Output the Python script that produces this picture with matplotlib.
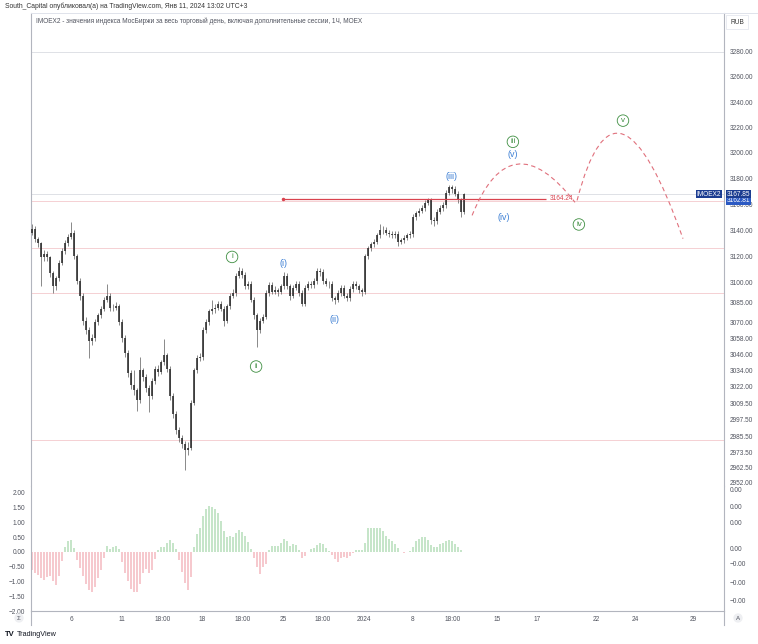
# IMOEX2 1H chart with wave count, TradingView-like layout
import matplotlib
matplotlib.use("Agg")
import numpy as np
import matplotlib.pyplot as plt
from matplotlib.path import Path
from matplotlib.patches import PathPatch
from matplotlib.lines import Line2D
from matplotlib.ticker import FixedLocator, FixedFormatter, NullLocator

plt.rcParams['font.family'] = ['Liberation Sans', 'DejaVu Sans']

# price bars (one bar per ~3 hours), open = previous close
first_open = 3138
closes = [3141, 3133, 3130, 3119, 3122, 3119, 3107, 3097, 3103, 3115,
          3124, 3130, 3135, 3138, 3120, 3101, 3090, 3071, 3064, 3056,
          3058, 3070, 3075, 3080, 3087, 3090, 3081, 3081, 3082, 3070,
          3058, 3047, 3032, 3023, 3019, 3012, 3034, 3029, 3021, 3015,
          3026, 3035, 3033, 3040, 3045, 3035, 3015, 3002, 2990, 2984,
          2980, 2975, 2977, 3010, 3034, 3043, 3044, 3064, 3070, 3078,
          3080, 3081, 3084, 3080, 3071, 3082, 3090, 3092, 3105, 3109,
          3106, 3097, 3099, 3087, 3075, 3064, 3071, 3074, 3092, 3098,
          3093, 3094, 3093, 3097, 3105, 3097, 3090, 3096, 3099, 3092,
          3084, 3096, 3099, 3098, 3101, 3109, 3108, 3101, 3099, 3099,
          3088, 3087, 3092, 3096, 3090, 3088, 3095, 3099, 3097, 3094,
          3093, 3120, 3126, 3129, 3131, 3136, 3140, 3140, 3138, 3137,
          3136, 3137, 3131, 3132, 3134, 3136, 3137, 3150, 3153, 3155,
          3157, 3161, 3163, 3148, 3147, 3154, 3157, 3159, 3169, 3173,
          3172, 3168, 3163, 3154, 3167.85]
highs = [3145, 3143, 3135, 3131, 3125, 3124, 3120, 3109, 3105, 3117,
         3126, 3132, 3137, 3146, 3140, 3122, 3103, 3092, 3074, 3066,
         3061, 3072, 3077, 3082, 3089, 3099, 3092, 3084, 3085, 3084,
         3072, 3060, 3049, 3034, 3034, 3021, 3044, 3036, 3031, 3023,
         3028, 3037, 3038, 3042, 3057, 3047, 3037, 3017, 3004, 2992,
         2986, 2982, 2981, 3012, 3036, 3045, 3047, 3066, 3072, 3080,
         3087, 3084, 3086, 3086, 3082, 3084, 3092, 3095, 3107, 3112,
         3111, 3108, 3101, 3101, 3089, 3077, 3073, 3076, 3094, 3100,
         3100, 3097, 3096, 3099, 3108, 3107, 3099, 3098, 3101, 3101,
         3094, 3098, 3101, 3101, 3103, 3111, 3111, 3110, 3103, 3101,
         3101, 3090, 3094, 3098, 3098, 3092, 3097, 3101, 3101, 3099,
         3096, 3122, 3128, 3131, 3133, 3138, 3145, 3143, 3142, 3140,
         3139, 3139, 3139, 3134, 3136, 3138, 3139, 3152, 3155, 3157,
         3159, 3163, 3165, 3165, 3150, 3156, 3159, 3162, 3171, 3175,
         3175, 3174, 3170, 3165, 3169]
lows = [3136, 3131, 3127, 3097, 3116, 3116, 3104, 3092, 3094, 3101,
        3113, 3122, 3128, 3133, 3118, 3099, 3087, 3068, 3061, 3043,
        3053, 3056, 3068, 3073, 3078, 3085, 3078, 3078, 3079, 3068,
        3055, 3044, 3029, 3020, 3016, 3004, 3010, 3026, 3018, 3003,
        3013, 3024, 3030, 3031, 3038, 3033, 3012, 2999, 2987, 2981,
        2977, 2961, 2972, 2975, 3008, 3032, 3041, 3042, 3062, 3068,
        3076, 3077, 3079, 3078, 3067, 3069, 3080, 3088, 3090, 3103,
        3103, 3095, 3095, 3085, 3072, 3051, 3062, 3069, 3072, 3090,
        3091, 3091, 3090, 3091, 3095, 3095, 3087, 3088, 3094, 3090,
        3082, 3082, 3094, 3096, 3096, 3099, 3105, 3099, 3097, 3096,
        3086, 3084, 3085, 3090, 3088, 3086, 3086, 3093, 3095, 3092,
        3090, 3091, 3118, 3124, 3127, 3129, 3134, 3137, 3136, 3135,
        3134, 3134, 3128, 3129, 3130, 3132, 3134, 3135, 3148, 3151,
        3153, 3155, 3159, 3145, 3143, 3145, 3152, 3155, 3157, 3167,
        3169, 3166, 3161, 3150, 3152]

# oscillator histogram (lower pane)
osc = [-0.60, -0.70, -0.78, -0.88, -0.94, -0.85, -0.82, -0.98, -1.12, -0.80,
       -0.30, 0.15, 0.38, 0.40, 0.12, -0.28, -0.55, -0.80, -1.08, -1.30,
       -1.35, -1.20, -0.90, -0.60, -0.22, 0.20, 0.10, 0.15, 0.20, 0.08,
       -0.35, -0.70, -1.00, -1.25, -1.35, -1.35, -1.10, -0.70, -0.58, -0.70,
       -0.60, -0.25, 0.05, 0.18, 0.18, 0.30, 0.40, 0.30, 0.08, -0.28,
       -0.68, -1.05, -1.30, -0.85, 0.15, 0.60, 0.80, 1.20, 1.45, 1.55,
       1.52, 1.45, 1.30, 1.05, 0.70, 0.50, 0.55, 0.50, 0.65, 0.75,
       0.68, 0.52, 0.32, 0.10, -0.20, -0.50, -0.75, -0.50, -0.42, 0.05,
       0.20, 0.20, 0.20, 0.30, 0.45, 0.35, 0.20, 0.25, 0.22, 0.05,
       -0.20, -0.15, -0.02, 0.08, 0.13, 0.22, 0.30, 0.25, 0.12, 0.03,
       -0.10, -0.25, -0.33, -0.22, -0.16, -0.20, -0.15, -0.05, 0.05, 0.05,
       0.05, 0.30, 0.80, 0.80, 0.80, 0.80, 0.80, 0.70, 0.55, 0.43,
       0.37, 0.28, 0.12, -0.02, -0.05, -0.02, 0.03, 0.15, 0.38, 0.45,
       0.50, 0.50, 0.40, 0.22, 0.15, 0.18, 0.25, 0.30, 0.37, 0.40,
       0.36, 0.28, 0.15, 0.06, 0.01]

# axis ticks
price_ticks = [3280, 3260, 3240, 3220, 3200, 3180, 3160, 3140, 3120, 3100,
               3085, 3070, 3058, 3046, 3034, 3022, 3009.5, 2997.5, 2985.5,
               2973.5, 2962.5, 2952]
osc_ticks = [2.0, 1.5, 1.0, 0.5, 0.0, -0.5, -1.0, -1.5, -2.0]
osc_right_ticks = [2.12, 1.52, 0.98, 0.10, -0.41, -1.04, -1.65]
osc_right_labels = ["0.00", "0.00", "0.00", "0.00", "\u22120.00", "\u22120.00", "\u22120.00"]
time_ticks = [13.3, 30, 43.7, 56.7, 70.3, 83.7, 97, 110.7, 126.7, 140.3,
              155, 168.3, 188, 201, 220.3]
time_labels = ["6", "11", "18:00", "18", "18:00", "25", "18:00", "2024", "8",
               "18:00", "15", "17", "22", "24", "29"]

# horizontal levels
gray_levels = [3280.0, 3167.85]
pink_levels = [3162.81, 3126.5, 3092.0, 2982.6]
red_level = 3164.24
red_from, red_to = 83.7, 171.3

# wave labels: text, bar, price
green_waves = [("i", 66.7, 3119.4), ("ii", 74.7, 3036.8), ("iii", 160.3, 3208.6),
               ("iv", 182.3, 3144.3), ("v", 197.0, 3225.3)]
blue_waves = [("(i)", 84.0, 3114.7), ("(ii)", 100.7, 3071.8), ("(iii)", 139.7, 3181.6),
              ("(v)", 160.3, 3199.0), ("(iv)", 157.3, 3149.7)]

# projected arcs: start, control, end (bar, price)
arc1 = [(146.7, 3151.3), (159.5, 3226.3), (181.0, 3161.4)]
arc2 = [(181.7, 3162.9), (194.7, 3282.4), (217.0, 3133.4)]

W, H = 758, 644
def fx(px):
    return px / W
def fy(py):
    return 1 - py / H

AX_COL = '#b2b5be'
TXT_COL = '#50535e'
FS = 4.7

fig = plt.figure(figsize=(W / 100, H / 100), dpi=100)
fig.patch.set_facecolor('white')

ax = fig.add_axes([fx(31), fy(486), fx(724) - fx(31), fy(12.7) - fy(486)])
ax2 = fig.add_axes([fx(31), fy(611), fx(724) - fx(31), fy(486) - fy(611)], sharex=ax)

x = np.arange(len(closes))
opens = np.array([first_open] + closes[:-1])
cl = np.array(closes)

# --- main pane
ax.set_yscale('log')
for lv in gray_levels:
    ax.axhline(lv, color='#dfe1e6', lw=0.7, zorder=1)
for lv in pink_levels:
    ax.axhline(lv, color='#f5d0d3', lw=0.7, zorder=1)

ax.vlines(x, lows, highs, color='#6a6a6a', lw=0.55, zorder=3)
ax.vlines(x, np.minimum(opens, cl), np.maximum(opens, cl), color='#2b2b2b',
          lw=1.15, zorder=4)

ax.hlines(red_level, red_from, red_to, color='#d9434f', lw=0.9, zorder=5)
ax.plot([red_from], [red_level], 'o', color='#d9434f', ms=1.5, zorder=5)
ax.text(red_to + 1.2, red_level, f"{red_level:.2f}", color='#d9434f',
        fontsize=FS, va='center', ha='left', zorder=6)

for arc in (arc1, arc2):
    p = PathPatch(Path(arc, [Path.MOVETO, Path.CURVE3, Path.CURVE3]),
                  fill=False, edgecolor='#e0707c', lw=0.8, ls=(0, (4, 3)), zorder=5)
    ax.add_patch(p)

for t, bx, py in green_waves:
    ax.text(bx, py, t, color='#3e8e41', fontsize=5.8, ha='center', va='center',
            zorder=7, bbox=dict(boxstyle='circle,pad=0.28', fc='white',
                                ec='#3e8e41', lw=0.6))
for t, bx, py in blue_waves:
    ax.text(bx, py, t, color='#3c7fd4', fontsize=6.4, ha='center', va='center', zorder=7)

ax.set_ylim(2949.2, 3311.7)
ax.set_xlim(-0.33, 230.67)
ax.yaxis.tick_right()
ax.yaxis.set_major_locator(FixedLocator(price_ticks))
ax.yaxis.set_major_formatter(FixedFormatter([f"{v:.2f}" for v in price_ticks]))
ax.yaxis.set_minor_locator(NullLocator())
ax.tick_params(axis='y', length=0, pad=4, labelsize=FS, labelcolor=TXT_COL)
ax.tick_params(axis='x', bottom=False, labelbottom=False)
for s in ['left', 'right']:
    ax.spines[s].set_color(AX_COL)
    ax.spines[s].set_linewidth(0.8)
ax.spines['top'].set_color('#e0e3eb')
ax.spines['top'].set_linewidth(0.7)
ax.spines['bottom'].set_color('#e0e3eb')
ax.spines['bottom'].set_linewidth(0.7)

# price tags on the right scale
ytr = ax.get_yaxis_transform()
ax.text(1.004, pink_levels[0], "3162.81", transform=ytr, fontsize=FS, color='white',
        va='center', ha='left', zorder=10, clip_on=False,
        bbox=dict(boxstyle='square,pad=0.08', fc='#2b59c3', ec='none'))
ax.text(1.004, closes[-1], "3167.85", transform=ytr, fontsize=FS, color='white',
        va='center', ha='left', zorder=11, clip_on=False,
        bbox=dict(boxstyle='square,pad=0.08', fc='#1c3d91', ec='none'))
ax.text(0.996, closes[-1], "IMOEX2", transform=ytr, fontsize=FS, color='white',
        va='center', ha='right', zorder=10, clip_on=False,
        bbox=dict(boxstyle='square,pad=0.08', fc='#1c3d91', ec='none'))

# --- oscillator pane
colors = ['#c6e5c9' if v >= 0 else '#f6c9ce' for v in osc]
ax2.bar(x, osc, width=0.6, color=colors, linewidth=0, zorder=2)
ax2.set_ylim(-2.0, 2.226)
ax2.yaxis.set_major_locator(FixedLocator(osc_ticks))
ax2.yaxis.set_major_formatter(FixedFormatter(
    [f"{v:.2f}".replace('-', '\u2212') for v in osc_ticks]))
ax2.tick_params(axis='y', length=0, pad=4, labelsize=FS, labelcolor=TXT_COL)
ax2.xaxis.set_major_locator(FixedLocator(time_ticks))
ax2.xaxis.set_major_formatter(FixedFormatter(time_labels))
ax2.tick_params(axis='x', length=0, pad=3.5, labelsize=FS, labelcolor=TXT_COL)
for s in ['left', 'right', 'bottom']:
    ax2.spines[s].set_color(AX_COL)
    ax2.spines[s].set_linewidth(0.8)
ax2.spines['top'].set_visible(False)

ax3 = ax2.twinx()
ax3.set_ylim(ax2.get_ylim())
ax3.yaxis.set_major_locator(FixedLocator(osc_right_ticks))
ax3.yaxis.set_major_formatter(FixedFormatter(osc_right_labels))
ax3.tick_params(axis='y', length=0, pad=4, labelsize=FS, labelcolor=TXT_COL)
for s in ['left', 'right', 'bottom', 'top']:
    ax3.spines[s].set_visible(False)

# frame lines around the chart
fig.add_artist(Line2D([fx(31), fx(31)], [fy(611), fy(625)], color=AX_COL, lw=0.8))
fig.add_artist(Line2D([fx(724), fx(724)], [fy(611), fy(625)], color=AX_COL, lw=0.8))
fig.add_artist(Line2D([fx(724), fx(758)], [fy(12.7), fy(12.7)], color='#e0e3eb', lw=0.7))

# header texts
fig.text(fx(5), fy(6), "South_Capital опубликовал(а) на TradingView.com, Янв 11, 2024 13:02 UTC+3",
         fontsize=4.9, color='#333333', va='center', ha='left')
fig.text(fx(36), fy(21), "IMOEX2 - значения индекса МосБиржи за весь торговый день, "
         "включая дополнительные сессии, 1Ч, MOEX",
         fontsize=4.7, color=TXT_COL, va='center', ha='left')
fig.text(fx(737), fy(22), "RUB", fontsize=FS, color='#333333', va='center', ha='center',
         bbox=dict(boxstyle='square,pad=0.6', fc='white', ec='#e0e3eb', lw=0.5))
fig.text(fx(19), fy(618), "\u03a3", fontsize=4.4, color=TXT_COL, va='center', ha='center',
         bbox=dict(boxstyle='circle,pad=0.35', fc='#eeeff2', ec='none'))
fig.text(fx(738), fy(618), "A", fontsize=4.4, color=TXT_COL, va='center', ha='center',
         bbox=dict(boxstyle='circle,pad=0.35', fc='#eeeff2', ec='none'))
fig.text(fx(5), fy(634), "TV", fontsize=5.5, fontweight='bold', color='#131722',
         va='center', ha='left')
fig.text(fx(17), fy(634), "TradingView", fontsize=5.2, color='#131722',
         va='center', ha='left')

fig.savefig("out.png", dpi=100, facecolor='white')
